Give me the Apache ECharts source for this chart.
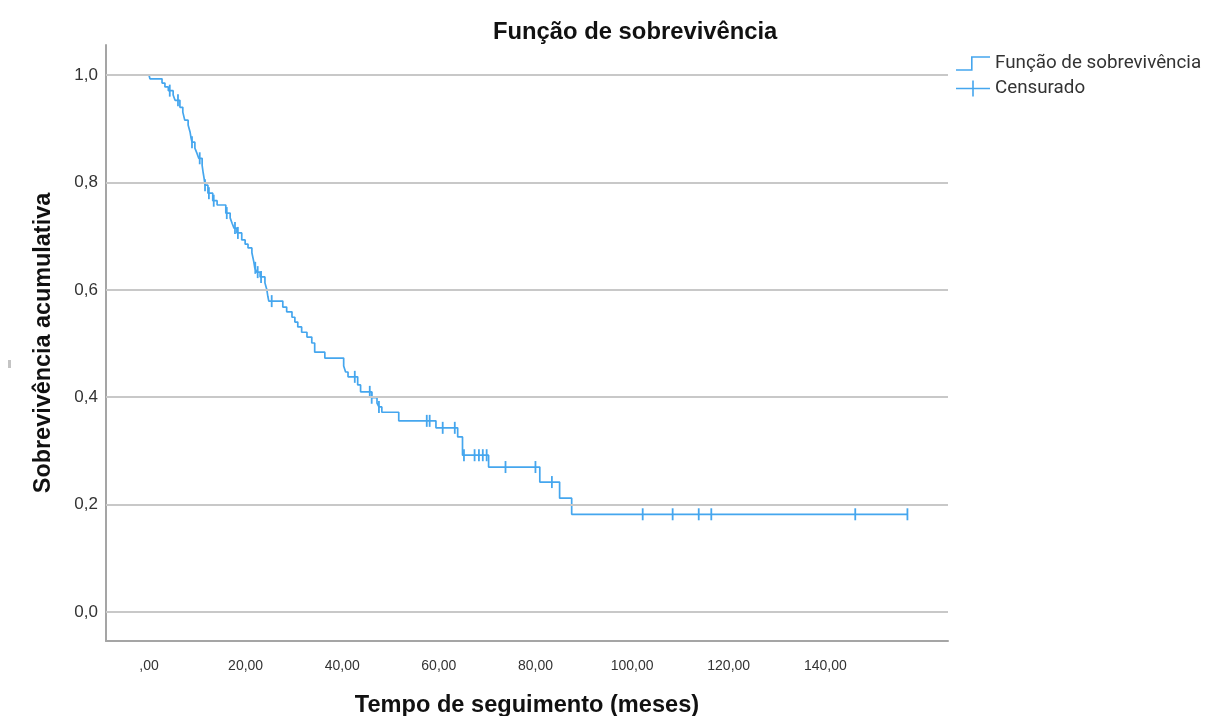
<!DOCTYPE html>
<html><head><meta charset="utf-8">
<script src="https://cdn.jsdelivr.net/npm/echarts@6/dist/echarts.min.js"></script>
<style>html,body{margin:0;padding:0;background:#fff}#c{width:1206px;height:716px}</style>
</head><body><div id="c"></div>
<script>
// Kaplan-Meier steps: time (months) and survival after the event
const stepTimes = [0, 0.2, 2.7, 3.3, 4.0, 5.0, 5.4, 6.4, 7.0, 7.4, 8.1, 8.5, 8.7, 8.9, 9.5, 9.9, 10.3, 11.0, 11.2, 11.4, 11.6, 12.2, 13.2, 14.1, 15.9, 16.8, 17.2, 17.6, 18.2, 19.2, 19.9, 20.5, 21.3, 21.7, 21.9, 22.3, 23.0, 24.0, 24.4, 24.6, 24.8, 27.7, 28.5, 29.6, 30.2, 30.8, 31.6, 32.7, 33.7, 34.3, 36.4, 40.3, 40.7, 41.2, 43.2, 43.8, 46.1, 47.2, 47.6, 48.2, 51.7, 59.4, 63.9, 64.9, 70.3, 80.9, 85.0, 87.5];
const stepSurvival = [1.000, 0.993, 0.985, 0.978, 0.971, 0.963, 0.953, 0.940, 0.931, 0.916, 0.907, 0.894, 0.883, 0.875, 0.864, 0.855, 0.845, 0.832, 0.819, 0.808, 0.795, 0.780, 0.766, 0.758, 0.743, 0.734, 0.724, 0.715, 0.706, 0.693, 0.685, 0.678, 0.669, 0.652, 0.641, 0.633, 0.624, 0.613, 0.600, 0.588, 0.579, 0.568, 0.559, 0.549, 0.540, 0.531, 0.521, 0.512, 0.501, 0.484, 0.473, 0.458, 0.447, 0.438, 0.423, 0.410, 0.399, 0.389, 0.382, 0.372, 0.356, 0.343, 0.326, 0.292, 0.270, 0.242, 0.212, 0.182];
const lastTime = 157.0;
// Censored observations
const censorTimes = [4.3, 6.0, 8.9, 10.5, 11.6, 12.4, 13.4, 16.1, 17.8, 18.4, 22.0, 22.5, 23.2, 25.4, 42.6, 45.7, 46.1, 47.6, 57.5, 58.1, 60.8, 63.3, 65.2, 67.4, 68.3, 69.1, 69.9, 73.8, 80.0, 83.4, 102.2, 108.4, 113.8, 116.4, 146.2, 157.0];
const censorSurvival = [0.971, 0.953, 0.875, 0.845, 0.795, 0.780, 0.766, 0.743, 0.715, 0.706, 0.641, 0.633, 0.624, 0.579, 0.438, 0.410, 0.399, 0.382, 0.356, 0.356, 0.343, 0.343, 0.292, 0.292, 0.292, 0.292, 0.292, 0.270, 0.270, 0.242, 0.182, 0.182, 0.182, 0.182, 0.182, 0.182];
const xTickValues = [0, 20, 40, 60, 80, 100, 120, 140];
const yTickValues = [0, 0.2, 0.4, 0.6, 0.8, 1.0];
const seriesNames = ['Função de sobrevivência', 'Censurado'];

const curve = stepTimes.map((t, i) => [t, stepSurvival[i]]);
curve.push([lastTime, stepSurvival[stepSurvival.length - 1]]);
const censored = censorTimes.map((t, i) => [t, censorSurvival[i]]);

const blue = '#45A6EE';
const chart = echarts.init(document.getElementById('c'), null, {renderer: 'canvas'});
chart.setOption({
  animation: false,
  backgroundColor: '#fff',
  title: {
    text: 'Função de sobrevivência',
    left: 488, top: 15,
    textStyle: {fontFamily: 'Liberation Sans', fontSize: 23.8, fontWeight: 'bold', color: '#111'}
  },
  legend: {
    orient: 'vertical', left: 951, top: 49, itemGap: 6,
    itemWidth: 34, itemHeight: 16,
    textStyle: {fontFamily: 'Roboto', fontSize: 18.8, color: '#333'},
    data: [
      {name: seriesNames[0], icon: 'path://M0,13 L15,13 L15,0 L34,0 L34,1.6 L16.6,1.6 L16.6,14.6 L0,14.6 Z'},
      {name: seriesNames[1], icon: 'path://M0,7.2 L34,7.2 L34,8.8 L0,8.8 Z M16.2,0 L17.8,0 L17.8,16 L16.2,16 Z'}
    ]
  },
  grid: {left: 106, right: 258, top: 45, bottom: 75, containLabel: false, outerBoundsMode: 'none'},
  xAxis: {
    type: 'value', min: -8.9, max: 165.4,
    axisLine: {show: true, onZero: false, lineStyle: {color: '#a5a5a5', width: 2}},
    axisTick: {show: false},
    splitLine: {show: false},
    axisLabel: {
      customValues: xTickValues, margin: 18,
      fontFamily: 'Liberation Sans', fontSize: 14, color: '#333',
      formatter: v => (v === 0 ? '' : String(Math.round(v))) + ',00'
    },
    name: 'Tempo de seguimento (meses)', nameLocation: 'middle', nameGap: 52,
    nameTextStyle: {fontFamily: 'Liberation Sans', fontSize: 23.6, fontWeight: 'bold', color: '#111'}
  },
  yAxis: {
    type: 'value', min: -0.054, max: 1.056,
    axisLine: {show: true, onZero: false, lineStyle: {color: '#a5a5a5', width: 2}},
    axisTick: {show: false},
    splitLine: {show: false},
    axisLabel: {
      customValues: yTickValues, margin: 8,
      fontFamily: 'Liberation Sans', fontSize: 17, color: '#333',
      formatter: v => v.toFixed(1).replace('.', ',')
    },
    name: 'Sobrevivência acumulativa', nameLocation: 'middle', nameGap: 51, nameRotate: 90,
    nameTextStyle: {fontFamily: 'Liberation Sans', fontSize: 23.4, fontWeight: 'bold', color: '#111'}
  },
  graphic: [
    {type: 'rect', left: 8, top: 360, shape: {width: 3, height: 8}, style: {fill: '#c4c4c4'}}
  ],
  series: [
    {
      name: 'grid', type: 'line', data: [], z: 1, silent: true,
      markLine: {
        silent: true, symbol: ['none', 'none'], label: {show: false},
        lineStyle: {color: '#c8c8c8', width: 2, type: 'solid'},
        data: yTickValues.map(v => ({yAxis: v}))
      }
    },
    {
      name: seriesNames[0], type: 'line', step: 'end', data: curve, z: 3,
      showSymbol: false, symbol: 'none',
      color: blue,
      lineStyle: {color: blue, width: 1.7},
      itemStyle: {color: blue}
    },
    {
      name: seriesNames[1], type: 'scatter', data: censored, z: 4,
      symbol: 'rect', symbolSize: [1.8, 12],
      itemStyle: {color: blue, opacity: 1}
    }
  ]
});
</script></body></html>
